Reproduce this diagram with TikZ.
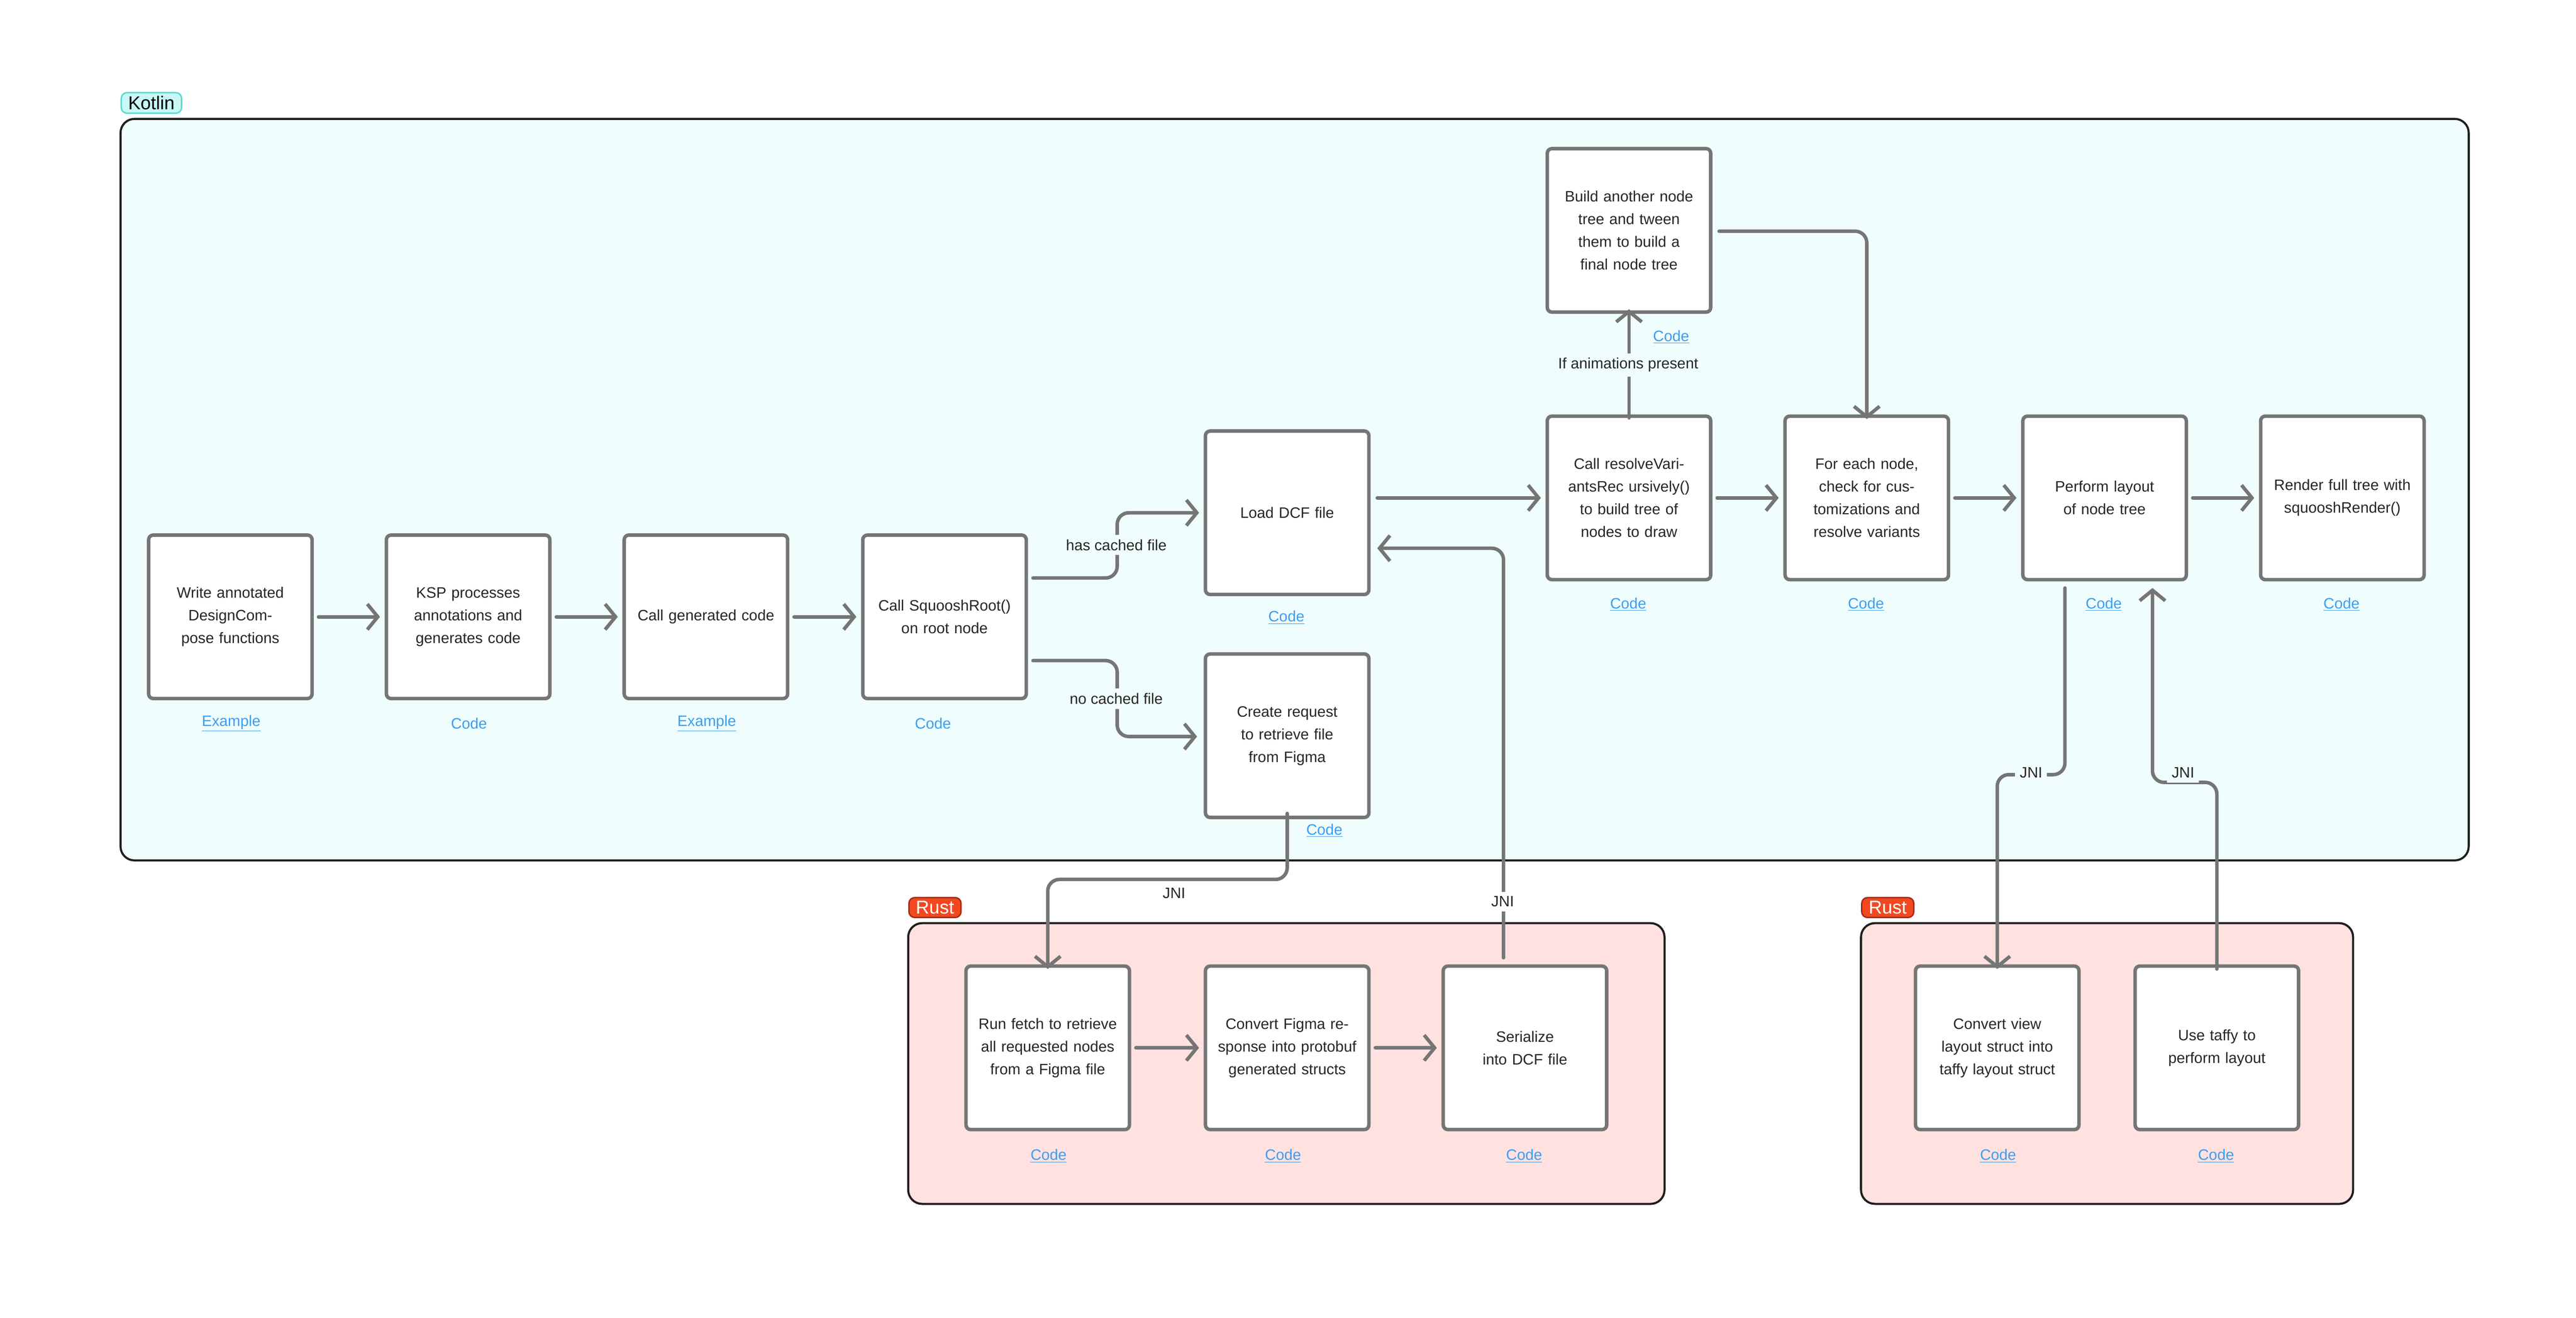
\documentclass[tikz,border=0pt]{standalone}
\usepackage{fontspec}
\setmainfont{Liberation Sans}
\usetikzlibrary{arrows.meta,calc}
\definecolor{kfill}{HTML}{F0FDFD}
\definecolor{rfill}{HTML}{FFE1E0}
\definecolor{frame}{HTML}{1E1E1E}
\definecolor{gr}{HTML}{757575}
\definecolor{lnk}{HTML}{3A9EF5}
\definecolor{klab}{HTML}{C7F8F5}
\definecolor{klabb}{HTML}{5AD8CF}
\definecolor{rlab}{HTML}{F24822}
\definecolor{rlabb}{HTML}{A52A14}
\newcommand\myul[1]{\underline{#1}}
\tikzset{
 cont/.style={draw=frame,line width=1.8pt,rounded corners=12pt},
 box/.style={draw=gr,fill=white,line width=3pt,rounded corners=4pt,minimum width=4.95cm,minimum height=4.95cm,text width=4.2cm,align=center,font=\fontsize{13}{19.5}\selectfont,text=black!85},
 arr/.style={draw=gr,line width=3pt,line cap=round,rounded corners=10pt,-{Straight Barb[length=9pt,width=22pt,line width=3pt]}},
 lab/.style={font=\fontsize{13}{16}\selectfont,text=black!85,inner sep=4pt},
 link/.style={font=\fontsize{13}{16}\selectfont,text=lnk},
 tag/.style={rounded corners=5pt,line width=1.2pt,font=\fontsize{16}{18}\selectfont,inner xsep=6pt,inner ysep=3pt,anchor=south west},
}
\begin{document}
\begin{tikzpicture}[x=0.05cm,y=-0.05cm]
\useasboundingbox (0,0) rectangle (1560,798);
% containers
\node[tag,fill=klab,draw=klabb,text=black] (kt) at (73,69) {Kotlin};
\draw[cont,fill=kfill] (73,72) rectangle (1495,521);
\node[tag,fill=rlab,draw=rlabb,text=white] (rt1) at (550,556) {Rust};
\draw[cont,fill=rfill] (550,559) rectangle (1008,729);
\node[tag,fill=rlab,draw=rlabb,text=white] (rt2) at (1127,556) {Rust};
\draw[cont,fill=rfill] (1127,559) rectangle (1425,729);
% boxes
\node[box] (b1) at (139.5,373.5) {Write annotated DesignCompose functions};
\node[box] (b2) at (283.5,373.5) {KSP processes annotations and generates code};
\node[box] (b3) at (427.5,373.5) {Call generated code};
\node[box] (b4) at (572,373.5) {Call SquooshRoot() on root node};
\node[box] (b5) at (779.5,310.5) {Load DCF file};
\node[box] (b6) at (779.5,445.5) {Create request to retrieve file from Figma};
\node[box] (b7) at (986.5,301.5) {Call resolveVariantsRec ursively() to build tree of nodes to draw};
\node[box] (b8) at (986.5,139.5) {Build another node tree and tween them to build a final node tree};
\node[box] (b9) at (1130.5,301.5) {For each node, check for customizations and resolve variants};
\node[box] (b10) at (1274.5,301.5) {Perform layout of node tree};
\node[box] (b11) at (1418.5,301.5) {Render full tree with squooshRender()};
\node[box] (r1) at (634.5,634.5) {Run fetch to retrieve all requested nodes from a Figma file};
\node[box] (r2) at (779.5,634.5) {Convert Figma response into protobuf generated structs};
\node[box] (r3) at (923.5,634.5) {Serialize into DCF file};
\node[box] (r4) at (1209.5,634.5) {Convert view layout struct into taffy layout struct};
\node[box] (r5) at (1342.5,634.5) {Use taffy to perform layout};
% links
\node[link] (l1) at (140,438) {\myul{Example}};
\node[link] (l2) at (284,438) {Code};
\node[link] (l3) at (428,438) {\myul{Example}};
\node[link] (l4) at (565,438) {Code};
\node[link] (l5) at (779,374) {\myul{Code}};
\node[link] (l6) at (802,503) {\myul{Code}};
\node[link] (l7) at (986,366) {\myul{Code}};
\node[link] (l8) at (1012,204) {\myul{Code}};
\node[link] (l9) at (1130,366) {\myul{Code}};
\node[link] (l10) at (1274,366) {\myul{Code}};
\node[link] (l11) at (1418,366) {\myul{Code}};
\node[link] (l12) at (635,700) {\myul{Code}};
\node[link] (l13) at (777,700) {\myul{Code}};
\node[link] (l14) at (923,700) {\myul{Code}};
\node[link] (l15) at (1210,700) {\myul{Code}};
\node[link] (l16) at (1342,700) {\myul{Code}};
% arrows
\draw[arr] ([xshift=4]b1.east) -- ([xshift=-4]b2.west);
\draw[arr] ([xshift=4]b2.east) -- ([xshift=-4]b3.west);
\draw[arr] ([xshift=4]b3.east) -- ([xshift=-4]b4.west);
\draw[arr] ([shift={(3,-23.5)}]b4.east) -- ++(51,0) |- ([xshift=-4]b5.west);
\draw[arr] ([shift={(3,26.5)}]b4.east) -- ++(51,0) |- ([shift={(-4,0.5)}]b6.west);
\draw[arr] ([shift={(4,-9)}]b5.east) -- ([xshift=-4]b7.west);
\draw[arr] ([xshift=4]b7.east) -- ([xshift=-4]b9.west);
\draw[arr] ([xshift=4]b9.east) -- ([xshift=-4]b10.west);
\draw[arr] ([xshift=4]b10.east) -- ([xshift=-4]b11.west);
\draw[arr] ([yshift=-3]b7.north) -- ([yshift=4]b8.south);
\draw[arr] ([shift={(4,0.5)}]b8.east) -| ([yshift=-4]b9.north);
\draw[arr] ([yshift=5]b6.south) -- ++(0,40) -| ([yshift=-4]r1.north);
\draw[arr] ([shift={(-13,-4)}]r3.north) |- ([shift={(4,21.5)}]b5.east);
\draw[arr] ([shift={(-24,4)}]b10.south) -- ++(0,113) -| ([yshift=-4]r4.north);
\draw[arr] ([yshift=-4]r5.north) -- ++(0,-113) -| ([shift={(29,4)}]b10.south);
\draw[arr] ([xshift=4]r1.east) -- ([xshift=-4]r2.west);
\draw[arr] ([xshift=4]r2.east) -- ([xshift=-4]r3.west);
% edge labels
\node[lab,fill=kfill] (e1) at (676,330) {has cached file};
\node[lab,fill=kfill] (e2) at (676,423) {no cached file};
\node[lab,fill=kfill] (e3) at (986,221) {If animations present};
\node[lab,fill=white] (e4) at (711,541) {JNI};
\node[lab,fill=white] (e5) at (910,546) {JNI};
\node[lab,fill=kfill] (e6) at (1230,468) {JNI};
\node[lab,fill=kfill] (e7) at (1322,468) {JNI};
\end{tikzpicture}
\end{document}
